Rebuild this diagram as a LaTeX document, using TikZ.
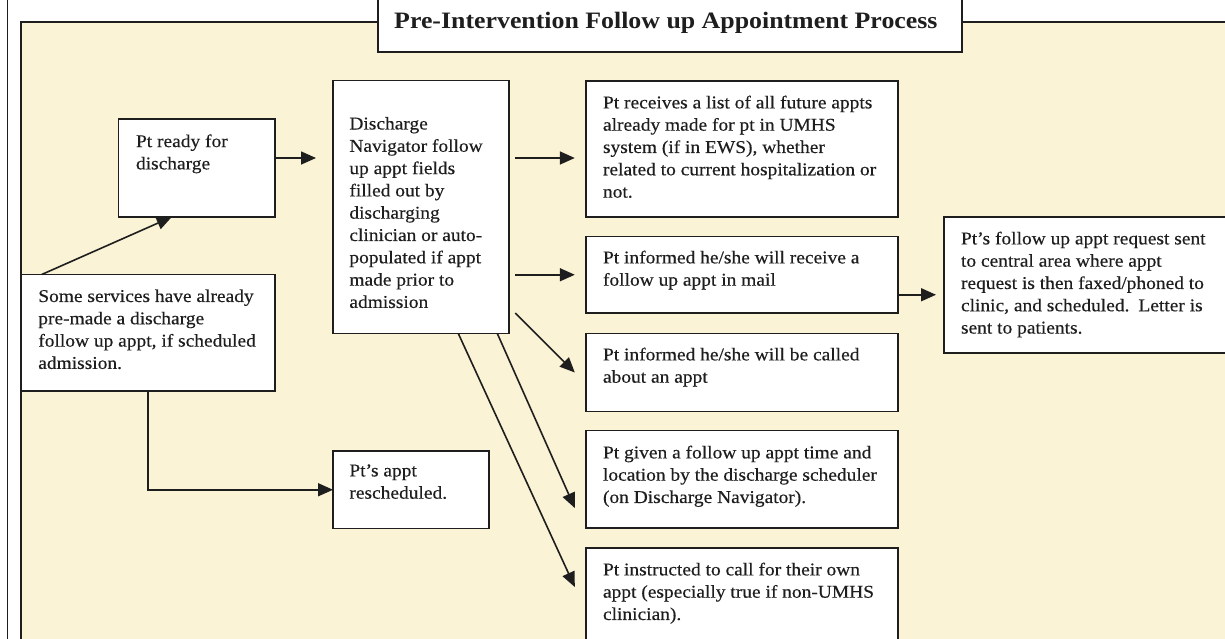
\documentclass[tikz,border=0pt]{standalone}
\usepackage{fontspec}
\setmainfont[FakeStretch=1.08,FakeBold=0.35]{Liberation Serif}
\newfontfamily\titlefont[FakeStretch=1.1]{Liberation Serif}
\usetikzlibrary{arrows.meta,calc}
\definecolor{beige}{RGB}{250,243,213}
\definecolor{ink}{RGB}{30,30,30}
\begin{document}
\begin{tikzpicture}[x=1pt,y=-1pt,
  box/.style={draw=ink, line width=1.6pt, fill=white, rectangle, inner sep=0pt, outer sep=0pt, anchor=north west},
  txt/.style={anchor=north west, inner sep=0pt, outer sep=0pt, align=left, text=ink, font=\fontsize{18}{22.3}\selectfont},
  arr/.style={draw=ink, line width=1.6pt, -{Triangle[length=15pt,width=13pt]}}
]
\clip (0,0) rectangle (1225,638);
\fill[white] (0,0) rectangle (1225,638);
% outer frame and beige panel
\draw[ink, line width=1.2pt] (7.5,-5) rectangle (1270,670);
\draw[draw=ink, line width=1.6pt, fill=beige] (20.7,22) rectangle (1260,670);
% title
\node[box, minimum width=584pt, minimum height=55pt] (title) at (378,-3) {};
\node[anchor=base west, inner sep=0pt, text=ink, font=\titlefont\bfseries\fontsize{23.5}{28}\selectfont] (titleT) at (394,28.5) {Pre-Intervention Follow up Appointment Process};
% boxes
\node[box, minimum width=156.2pt, minimum height=98pt] (ready) at (118.6,119) {};
\node[box, minimum width=254.1pt, minimum height=116.5pt] (some) at (20.7,274.5) {};
\node[box, minimum width=175.8pt, minimum height=253pt] (dn) at (333,80.5) {};
\node[box, minimum width=312pt, minimum height=136pt] (list) at (585.8,81) {};
\node[box, minimum width=312pt, minimum height=76.5pt] (mail) at (585.8,236.5) {};
\node[box, minimum width=312pt, minimum height=78pt] (called) at (585.8,333.5) {};
\node[box, minimum width=312pt, minimum height=97.5pt] (given) at (585.8,430.5) {};
\node[box, minimum width=312pt, minimum height=120pt] (instr) at (585.8,548) {};
\node[box, minimum width=320pt, minimum height=136pt] (central) at (944,217) {};
\node[box, minimum width=156.2pt, minimum height=77.5pt] (resch) at (333,451) {};
% texts
\node[txt] (readyT) at ([xshift=17.4pt,yshift=-15.4pt]ready.north west) {Pt ready for\\discharge};
\node[txt] (someT) at ([xshift=17.6pt,yshift=-15pt]some.north west) {Some services have already\\pre-made a discharge\\follow up appt, if scheduled\\admission.};
\node[txt] (dnT) at ([xshift=16.4pt,yshift=-36.5pt]dn.north west) {Discharge\\Navigator follow\\up appt fields\\filled out by\\discharging\\clinician or auto-\\populated if appt\\made prior to\\admission};
\node[txt] (listT) at ([xshift=17.2pt,yshift=-14.7pt]list.north west) {Pt receives a list of all future appts\\already made for pt in UMHS\\system (if in EWS), whether\\related to current hospitalization or\\not.};
\node[txt] (mailT) at ([xshift=17.2pt,yshift=-14.2pt]mail.north west) {Pt informed he/she will receive a\\follow up appt in mail};
\node[txt] (calledT) at ([xshift=17.2pt,yshift=-14.2pt]called.north west) {Pt informed he/she will be called\\about an appt};
\node[txt] (givenT) at ([xshift=17.2pt,yshift=-15.2pt]given.north west) {Pt given a follow up appt time and\\location by the discharge scheduler\\(on Discharge Navigator).};
\node[txt] (instrT) at ([xshift=17.2pt,yshift=-14.7pt]instr.north west) {Pt instructed to call for their own\\appt (especially true if non-UMHS\\clinician).};
\node[txt] (centralT) at ([xshift=17pt,yshift=-14.7pt]central.north west) {Pt’s follow up appt request sent\\to central area where appt\\request is then faxed/phoned to\\clinic, and scheduled.\enspace Letter is\\sent to patients.};
\node[txt] (reschT) at ([xshift=16.4pt,yshift=-13.4pt]resch.north west) {Pt’s appt\\rescheduled.};
% connectors
\coordinate (r1) at ([yshift=10pt]ready.east);
\draw[arr, shorten >=17pt] (r1) -- (r1 -| dn.west);
\draw[arr] ([xshift=21pt]some.north west) -- ([xshift=-25pt]ready.south);
\draw[arr, shorten <=6.5pt, shorten >=11pt] (dn.east |- r1) -- (list.west |- r1);
\draw[arr, shorten <=6.5pt, shorten >=11pt] (dn.east |- mail.west) -- (mail.west);
\draw[arr] ($(dn.east |- mail.south)+(6.5,0)$) -- ([xshift=-11pt]called.west);
\draw[arr] ([xshift=-11.5pt]dn.south east) -- ([xshift=-11pt,yshift=20pt]given.south west);
\draw[arr] ([xshift=-50.5pt]dn.south east) -- ([xshift=-11pt,yshift=-39pt]instr.north west);
\coordinate (m1) at ([yshift=-20pt]mail.east);
\draw[arr, shorten >=8pt] (m1) -- (m1 -| central.west);
\draw[arr] (some.south) |- (resch.west);
\end{tikzpicture}
\end{document}
